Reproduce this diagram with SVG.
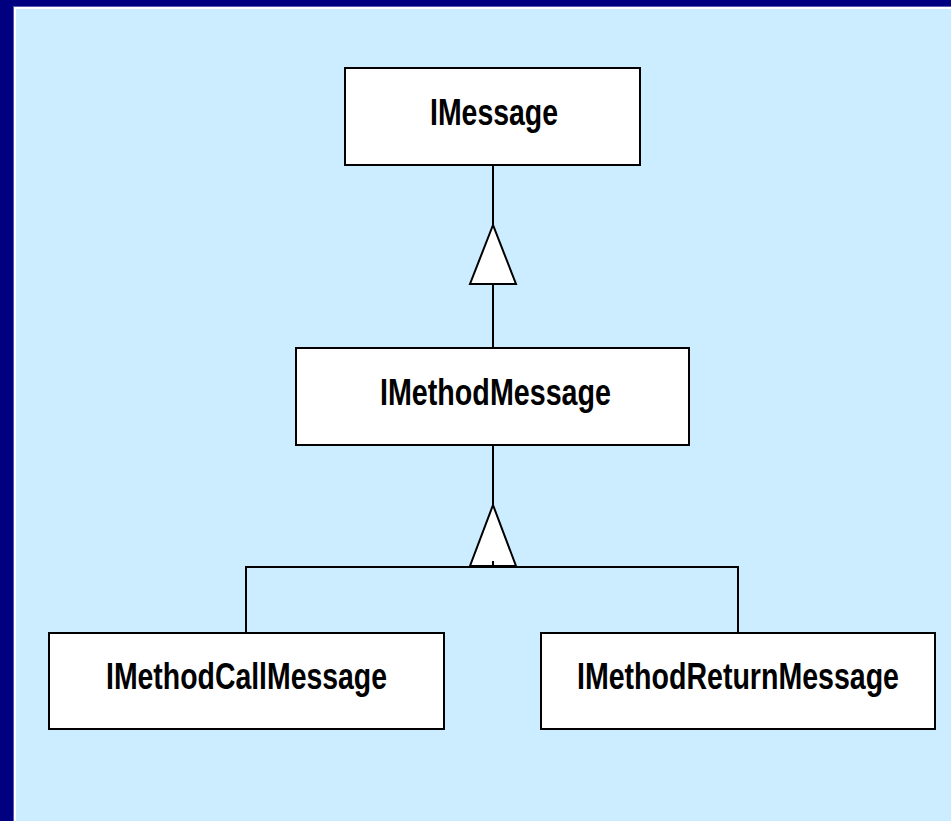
<svg xmlns="http://www.w3.org/2000/svg" width="951" height="821" viewBox="0 0 951 821">
<style>
.box{fill:#ffffff;stroke:#000000;stroke-width:2}
.lbl{font-family:"Liberation Sans",Arial,sans-serif;font-weight:bold;font-size:36px;fill:#000000}
.ln{fill:none;stroke:#000000;stroke-width:2}
.tri{fill:#ffffff;stroke:#000000;stroke-width:2;stroke-linejoin:miter}
</style>
<rect x="0" y="0" width="951" height="821" fill="#000080"/>
<rect x="13" y="6" width="938" height="815" fill="#5a5ab4"/>
<rect x="14" y="7" width="937" height="814" fill="#ffffff"/>
<rect x="16" y="9" width="935" height="812" fill="#CCECFF"/>
<g id="connectors">
<line class="ln" x1="493" y1="166" x2="493" y2="225"/>
<polygon class="tri" points="493,225 470,284 516,284"/>
<line class="ln" x1="493" y1="284" x2="493" y2="348"/>
<line class="ln" x1="493" y1="446" x2="493" y2="505"/>
<polyline class="ln" points="246,633 246,567 738,567 738,633"/>
<polygon class="tri" points="493,505 470,566 516,566"/>
<line class="ln" x1="493" y1="561" x2="493" y2="567"/>
</g>
<g id="IMessage">
<rect class="box" x="345" y="68" width="295" height="97"/>
<text class="lbl" x="430" y="125" textLength="128" lengthAdjust="spacingAndGlyphs">IMessage</text>
</g>
<g id="IMethodMessage">
<rect class="box" x="296" y="348" width="393" height="97"/>
<text class="lbl" x="380" y="405" textLength="231" lengthAdjust="spacingAndGlyphs">IMethodMessage</text>
</g>
<g id="IMethodCallMessage">
<rect class="box" x="49" y="633" width="395" height="96"/>
<text class="lbl" x="106" y="689" textLength="281" lengthAdjust="spacingAndGlyphs">IMethodCallMessage</text>
</g>
<g id="IMethodReturnMessage">
<rect class="box" x="541" y="633" width="394" height="96"/>
<text class="lbl" x="577" y="689" textLength="322" lengthAdjust="spacingAndGlyphs">IMethodReturnMessage</text>
</g>
</svg>
